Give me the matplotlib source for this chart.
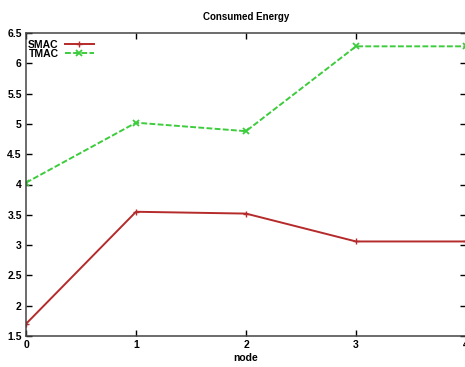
import matplotlib
matplotlib.use("Agg")
import matplotlib.pyplot as plt

nodes = [0, 1, 2, 3, 4]
smac = [1.70, 3.55, 3.52, 3.06, 3.06]
tmac = [4.03, 5.02, 4.88, 6.28, 6.28]
yticks = [1.5, 2, 2.5, 3, 3.5, 4, 4.5, 5, 5.5, 6, 6.5]

plt.rcParams['font.family'] = ['Liberation Sans', 'DejaVu Sans']

fig = plt.figure(figsize=(4.65, 3.67), dpi=100)
ax = fig.add_axes([26/465, 31/367, 440/465, 303/367])

ax.plot(nodes, smac, color='#b52a2a', lw=1.4, marker='+', ms=5, mew=1.0, label='SMAC')
ax.plot(nodes, tmac, color='#3ccc3c', lw=1.4, ls=(0, (3, 1.2)), marker='x', ms=4.5, mew=1.3, label='TMAC')

ax.set_xlim(0, 4)
ax.set_ylim(1.5, 6.5)
ax.set_xticks(nodes)
ax.set_yticks(yticks)
ax.set_yticklabels([('%g' % v) for v in yticks])
ax.tick_params(direction='in', length=4, width=1, top=True, right=True, labelsize=7.5, pad=3)
for lbl in ax.get_xticklabels() + ax.get_yticklabels():
    lbl.set_fontweight('bold')
for s in ax.spines.values():
    s.set_linewidth(1.1)
    s.set_color('#444444')

ax.set_title('Consumed Energy', fontsize=7, fontweight='bold', pad=9)
ax.set_xlabel('node', fontsize=7.5, fontweight='bold', labelpad=2)

leg = ax.legend(loc='upper left', bbox_to_anchor=(0.0, 0.985), markerfirst=False, frameon=False,
                fontsize=7.5, handlelength=2.8, handletextpad=0.6, borderaxespad=0.1,
                labelspacing=-0.05, borderpad=0.1)
for t in leg.get_texts():
    t.set_fontweight('bold')

fig.savefig('out.png', dpi=100)
